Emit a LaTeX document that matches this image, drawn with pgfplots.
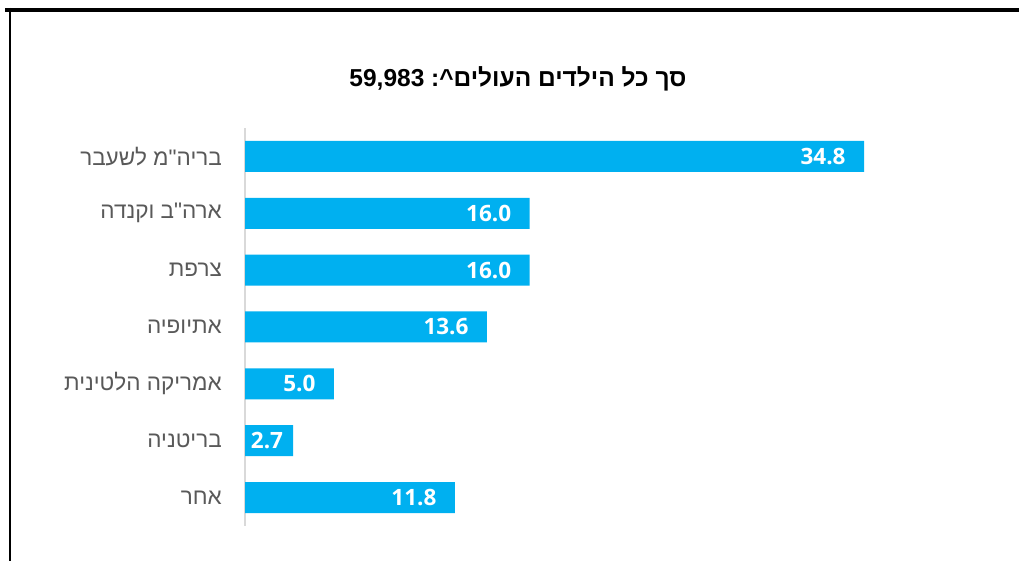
\documentclass[border=0pt]{standalone}
\usepackage{fontspec}
\usepackage{pgfplots}
\pgfplotsset{compat=1.18}
\TeXXeTstate=1
\setmainfont{Liberation Sans}
\newfontfamily\hebfont[Script=Hebrew]{Liberation Sans}
\newfontfamily\numfont{Open Sans}
\definecolor{barblue}{HTML}{00B0F0}
\definecolor{labgray}{HTML}{595959}
\definecolor{axgray}{HTML}{D9D9D9}
\begin{document}
\begin{tikzpicture}
\path[use as bounding box] (0,0) rectangle (1019bp,561bp);
\fill[white] (0,0) rectangle (1019bp,561bp);
\draw[line width=4bp] (5bp,551bp) -- (1019bp,551bp);
\draw[line width=2.5bp] (10bp,553bp) -- (10bp,0);
\node[font=\hebfont\bfseries\fontsize{24.5bp}{28bp}\selectfont] at (518bp,482bp) {\beginR סך כל הילדים העולים\textasciicircum:\ \beginL59,983\endL\endR};
\begin{axis}[
  at={(245bp,433bp)}, anchor=north west,
  scale only axis, width=619bp, height=398bp,
  xmin=0, xmax=34.8, ymin=-0.5, ymax=6.5,
  y dir=reverse,
  xbar, bar width=31bp,
  axis x line=none,
  axis y line*=left,
  y axis line style={axgray, line width=2bp, -},
  ytick={0,...,6},
  major tick length=0pt,
  yticklabels={
    {\beginR בריה"מ לשעבר\endR},
    {\beginR ארה"ב וקנדה\endR},
    {\beginR צרפת\endR},
    {\beginR אתיופיה\endR},
    {\beginR אמריקה הלטינית\endR},
    {\beginR בריטניה\endR},
    {\beginR אחר\endR}},
  yticklabel style={font=\hebfont\fontsize{22.5bp}{26bp}\selectfont, text=labgray, inner sep=0pt, xshift=-23bp, anchor=east},
  nodes near coords,
  point meta=x,
  visualization depends on={x \as \rawx},
  nodes near coords style={/pgf/number format/.cd, fixed, fixed zerofill, precision=1, assume math mode=true, /tikz/.cd,
    anchor=east, xshift={ifthenelse(\rawx<4,-6.5,-15)}, text=white, font=\numfont\bfseries\fontsize{22.5bp}{26bp}\selectfont},
  clip=false,
]
\addplot[fill=barblue, draw=none] coordinates {(34.8,0) (16.0,1) (16.0,2) (13.6,3) (5.0,4) (2.7,5) (11.8,6)};
\end{axis}
\end{tikzpicture}
\end{document}
